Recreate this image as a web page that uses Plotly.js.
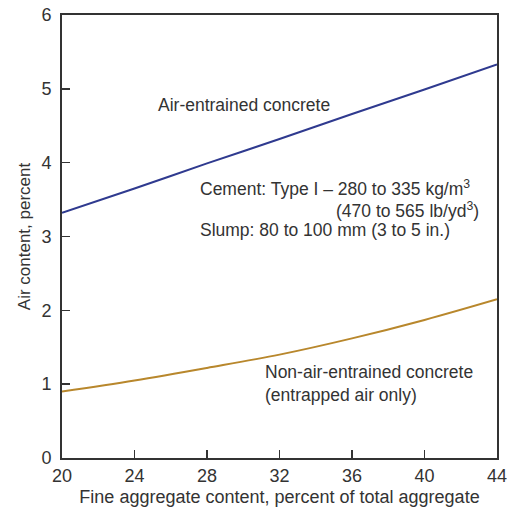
<!DOCTYPE html>
<html>
<head>
<meta charset="utf-8">
<script src="https://cdn.plot.ly/plotly-3.0.1.min.js"></script>
<style>html,body{margin:0;padding:0;background:#fff;}#chart{width:507px;height:510px;}</style>
</head>
<body>
<div id="chart"></div>
<script>
const fineAggregate = [20, 24, 28, 32, 36, 40, 44];
const airEntrained = [3.32, 3.65, 3.99, 4.32, 4.66, 4.99, 5.33];
const nonAirEntrained = [0.90, 1.05, 1.22, 1.40, 1.62, 1.87, 2.15];
const xTicks = [20, 24, 28, 32, 36, 40, 44];
const yTicks = [0, 1, 2, 3, 4, 5, 6];

const font = 'Liberation Sans, Arial, sans-serif';
const traces = [
  {x: fineAggregate, y: airEntrained, mode: 'lines', line: {color: '#2f3a8f', width: 2, shape: 'spline'}, hoverinfo: 'skip'},
  {x: fineAggregate, y: nonAirEntrained, mode: 'lines', line: {color: '#b8872c', width: 2, shape: 'spline'}, hoverinfo: 'skip'}
];
const ann = (text, x, y, xanchor) => ({text, x, y, xref: 'x', yref: 'y', xanchor, yanchor: 'middle', showarrow: false, font: {family: font, size: 17.5, color: '#333'}});
const layout = {
  width: 507, height: 510,
  margin: {l: 62, r: 10, t: 15, b: 52},
  paper_bgcolor: '#fff', plot_bgcolor: '#fff',
  showlegend: false,
  font: {family: font, color: '#333'},
  xaxis: {
    range: [20, 44], tickvals: xTicks, ticktext: xTicks.map(String),
    ticks: 'inside', ticklen: 8, tickwidth: 1.5, tickcolor: '#333',
    showline: true, linecolor: '#333', linewidth: 2, mirror: true,
    showgrid: false, zeroline: false, ticklabeloverflow: 'allow',
    tickfont: {family: font, size: 18, color: '#333'},
    title: {text: 'Fine aggregate content, percent of total aggregate', font: {family: font, size: 18, color: '#333'}, standoff: 6}
  },
  yaxis: {
    range: [0, 6], tickvals: yTicks, ticktext: yTicks.map(String),
    ticks: 'inside', ticklen: 8, tickwidth: 1.5, tickcolor: '#333',
    showline: true, linecolor: '#333', linewidth: 2, mirror: true,
    showgrid: false, zeroline: false, ticklabelstandoff: 5, ticklabeloverflow: 'allow',
    tickfont: {family: font, size: 18, color: '#333'},
    title: {text: 'Air content, percent', font: {family: font, size: 17, color: '#333'}, standoff: 6}
  },
  annotations: [
    ann('Air-entrained concrete', 25.2, 4.78, 'left'),
    ann('Cement: Type I \u2013 280 to 335 kg/m<sup>3</sup>', 27.5, 3.66, 'left'),
    ann('(470 to 565 lb/yd<sup>3</sup>)', 43.1, 3.36, 'right'),
    ann('Slump: 80 to 100 mm (3 to 5 in.)', 27.5, 3.09, 'left'),
    ann('Non-air-entrained concrete', 31.1, 1.16, 'left'),
    ann('(entrapped air only)', 31.1, 0.85, 'left')
  ]
};
Plotly.newPlot('chart', traces, layout, {staticPlot: true, displayModeBar: false});
</script>
</body>
</html>
